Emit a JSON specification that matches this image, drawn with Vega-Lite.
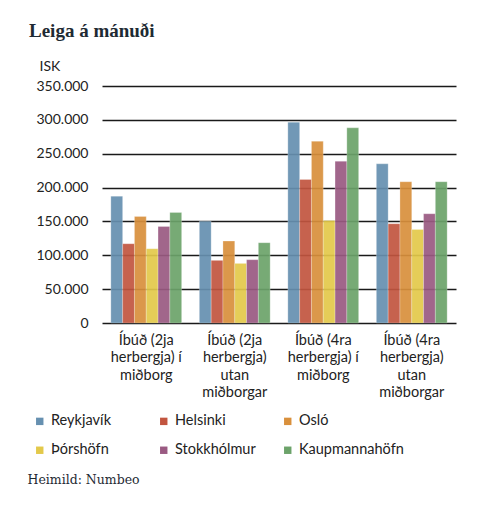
{
  "$schema": "https://vega.github.io/schema/vega-lite/v6.json",
  "width": 354,
  "height": 237,
  "autosize": {"type": "none"},
  "padding": {"left": 102, "top": 86, "right": 44, "bottom": 182},
  "background": "white",
  "title": {
    "text": "Leiga á mánuði",
    "anchor": "start",
    "frame": "group",
    "font": "Liberation Serif",
    "fontSize": 19,
    "fontWeight": "bold",
    "color": "#1e2a33",
    "dx": -73,
    "offset": 18
  },
  "data": {
    "values": [
      {"flokkur": "Íbúð (2ja herbergja) í miðborg", "borg": "Reykjavík", "leiga": 187300},
      {"flokkur": "Íbúð (2ja herbergja) í miðborg", "borg": "Helsinki", "leiga": 117100},
      {"flokkur": "Íbúð (2ja herbergja) í miðborg", "borg": "Osló", "leiga": 157400},
      {"flokkur": "Íbúð (2ja herbergja) í miðborg", "borg": "Þórshöfn", "leiga": 109700},
      {"flokkur": "Íbúð (2ja herbergja) í miðborg", "borg": "Stokkhólmur", "leiga": 142600},
      {"flokkur": "Íbúð (2ja herbergja) í miðborg", "borg": "Kaupmannahöfn", "leiga": 163300},
      {"flokkur": "Íbúð (2ja herbergja) utan miðborgar", "borg": "Reykjavík", "leiga": 150400},
      {"flokkur": "Íbúð (2ja herbergja) utan miðborgar", "borg": "Helsinki", "leiga": 92500},
      {"flokkur": "Íbúð (2ja herbergja) utan miðborgar", "borg": "Osló", "leiga": 121000},
      {"flokkur": "Íbúð (2ja herbergja) utan miðborgar", "borg": "Þórshöfn", "leiga": 88000},
      {"flokkur": "Íbúð (2ja herbergja) utan miðborgar", "borg": "Stokkhólmur", "leiga": 93500},
      {"flokkur": "Íbúð (2ja herbergja) utan miðborgar", "borg": "Kaupmannahöfn", "leiga": 118600},
      {"flokkur": "Íbúð (4ra herbergja) í miðborg", "borg": "Reykjavík", "leiga": 296500},
      {"flokkur": "Íbúð (4ra herbergja) í miðborg", "borg": "Helsinki", "leiga": 212000},
      {"flokkur": "Íbúð (4ra herbergja) í miðborg", "borg": "Osló", "leiga": 268400},
      {"flokkur": "Íbúð (4ra herbergja) í miðborg", "borg": "Þórshöfn", "leiga": 151500},
      {"flokkur": "Íbúð (4ra herbergja) í miðborg", "borg": "Stokkhólmur", "leiga": 238900},
      {"flokkur": "Íbúð (4ra herbergja) í miðborg", "borg": "Kaupmannahöfn", "leiga": 288200},
      {"flokkur": "Íbúð (4ra herbergja) utan miðborgar", "borg": "Reykjavík", "leiga": 235100},
      {"flokkur": "Íbúð (4ra herbergja) utan miðborgar", "borg": "Helsinki", "leiga": 146600},
      {"flokkur": "Íbúð (4ra herbergja) utan miðborgar", "borg": "Osló", "leiga": 208600},
      {"flokkur": "Íbúð (4ra herbergja) utan miðborgar", "borg": "Þórshöfn", "leiga": 138200},
      {"flokkur": "Íbúð (4ra herbergja) utan miðborgar", "borg": "Stokkhólmur", "leiga": 161400},
      {"flokkur": "Íbúð (4ra herbergja) utan miðborgar", "borg": "Kaupmannahöfn", "leiga": 208600}
    ]
  },
  "mark": {"type": "bar", "opacity": 0.92, "stroke": "white", "strokeOpacity": 0.25, "strokeWidth": 1},
  "encoding": {
    "x": {
      "field": "flokkur",
      "type": "nominal",
      "sort": null,
      "scale": {"paddingInner": 0.2, "paddingOuter": 0.1},
      "axis": {
        "title": "Heimild: Numbeo",
        "titleFont": "DejaVu Serif",
        "titleFontSize": 12.5,
        "titleFontWeight": "normal",
        "titleColor": "#1e2a33",
        "titleAnchor": "start",
        "titleAlign": "left",
        "titleBaseline": "alphabetic",
        "titleX": -75,
        "titleY": 160,
        "labelAngle": 0,
        "labelFont": "Lato",
        "labelFontSize": 14.5,
        "labelColor": "#222",
        "labelLineHeight": 17.5,
        "labelPadding": 10,
        "labelLimit": 0,
        "labelExpr": "{'Íbúð (2ja herbergja) í miðborg': ['Íbúð (2ja', 'herbergja) í', 'miðborg'], 'Íbúð (2ja herbergja) utan miðborgar': ['Íbúð (2ja', 'herbergja)', 'utan', 'miðborgar'], 'Íbúð (4ra herbergja) í miðborg': ['Íbúð (4ra', 'herbergja) í', 'miðborg'], 'Íbúð (4ra herbergja) utan miðborgar': ['Íbúð (4ra', 'herbergja)', 'utan', 'miðborgar']}[datum.label]",
        "ticks": false,
        "domain": false
      }
    },
    "xOffset": {
      "field": "borg",
      "type": "nominal",
      "sort": ["Reykjavík", "Helsinki", "Osló", "Þórshöfn", "Stokkhólmur", "Kaupmannahöfn"],
      "scale": {"paddingInner": 0, "paddingOuter": 0}
    },
    "y": {
      "field": "leiga",
      "type": "quantitative",
      "scale": {"domain": [0, 350000]},
      "axis": {
        "title": "ISK",
        "titleAngle": 0,
        "titleFont": "Lato",
        "titleFontSize": 14,
        "titleFontWeight": "normal",
        "titleColor": "#222",
        "titleAlign": "left",
        "titleBaseline": "middle",
        "titleX": -63,
        "titleY": -20,
        "values": [0, 50000, 100000, 150000, 200000, 250000, 300000, 350000],
        "labelExpr": "replace(format(datum.value, ',d'), /,/g, '.')",
        "labelFont": "Lato",
        "labelFontSize": 14,
        "labelColor": "#222",
        "labelPadding": 14,
        "ticks": false,
        "domain": false,
        "grid": true,
        "gridColor": "#1a1a1a",
        "gridWidth": 1.6,
        "gridOpacity": 1
      }
    },
    "color": {
      "field": "borg",
      "type": "nominal",
      "scale": {
        "domain": ["Reykjavík", "Þórshöfn", "Helsinki", "Stokkhólmur", "Osló", "Kaupmannahöfn"],
        "range": ["#6690b0", "#e3c94a", "#c2553f", "#9a5a82", "#d9903c", "#6ca36a"]
      },
      "legend": {
        "title": null,
        "orient": "none",
        "legendX": -69.5,
        "legendY": 328,
        "columns": 3,
        "gridAlign": "all",
        "columnPadding": 0,
        "rowPadding": 14,
        "padding": 0,
        "symbolType": "square",
        "symbolSize": 55,
        "symbolStrokeWidth": 0,
        "symbolOpacity": 1,
        "labelFont": "Lato",
        "labelFontSize": 14.5,
        "labelColor": "#222",
        "labelOffset": 4,
        "labelLimit": 0,
        "labelExpr": "datum.label == 'Helsinki' ? '\u00a0 Helsinki' : datum.label"
      }
    }
  },
  "config": {"view": {"stroke": null}}
}
